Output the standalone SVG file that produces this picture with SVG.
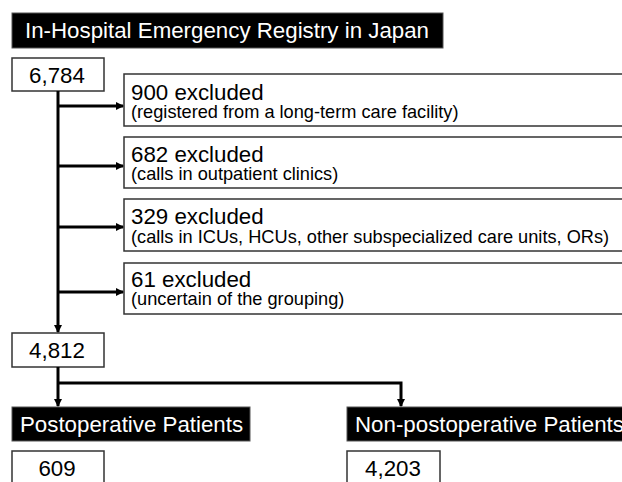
<svg xmlns="http://www.w3.org/2000/svg" width="622" height="482" viewBox="0 0 622 482">
<defs>
<marker id="ah" markerWidth="8" markerHeight="8" refX="7" refY="4" orient="auto" markerUnits="userSpaceOnUse">
<path d="M0,0 L8,4 L0,8 Z" fill="#000"/>
</marker>
<style>
.t{font-family:"Liberation Sans",Arial,sans-serif;fill:#000}
.w{font-family:"Liberation Sans",Arial,sans-serif;fill:#fff;font-size:22.3px}
.box{fill:#fff;stroke:#333;stroke-width:1.5}
.hdr{fill:#000;stroke:#555;stroke-width:1}
.big{font-size:22.3px}
.sm{font-size:18.2px}
.ln{fill:none;stroke:#000;stroke-width:3}
</style>
</defs>
<rect width="622" height="482" fill="#fff"/>
<g id="title">
<rect class="hdr" x="12" y="13" width="431" height="35"/>
<text class="w" x="25" y="38">In-Hospital Emergency Registry in Japan</text>
</g>
<g id="n6784">
<rect class="box" x="12" y="58" width="92" height="33"/>
<text class="t big" x="57" y="83" text-anchor="middle">6,784</text>
</g>
<g id="ex900">
<rect class="box" x="124" y="74" width="510" height="52"/>
<text class="t big" x="131" y="100">900 excluded</text>
<text class="t sm" x="131" y="118">(registered from a long-term care facility)</text>
</g>
<g id="ex682">
<rect class="box" x="124" y="137" width="510" height="51"/>
<text class="t big" x="131" y="162">682 excluded</text>
<text class="t sm" x="131" y="180">(calls in outpatient clinics)</text>
</g>
<g id="ex329">
<rect class="box" x="124" y="199" width="510" height="52"/>
<text class="t big" x="131" y="224">329 excluded</text>
<text class="t sm" x="131" y="243">(calls in ICUs, HCUs, other subspecialized care units, ORs)</text>
</g>
<g id="ex61">
<rect class="box" x="124" y="263" width="510" height="51"/>
<text class="t big" x="131" y="287">61 excluded</text>
<text class="t sm" x="131" y="305">(uncertain of the grouping)</text>
</g>
<g id="n4812">
<rect class="box" x="12" y="333" width="92" height="34"/>
<text class="t big" x="57" y="358" text-anchor="middle">4,812</text>
</g>
<g id="postop">
<rect class="hdr" x="12" y="407" width="238" height="34"/>
<text class="w" x="20" y="432">Postoperative Patients</text>
</g>
<g id="nonpostop">
<rect class="hdr" x="347" y="407" width="290" height="34"/>
<text class="w" x="355" y="432">Non-postoperative Patients</text>
</g>
<g id="n609">
<rect class="box" x="12" y="451" width="92" height="40"/>
<text class="t big" x="57" y="476" text-anchor="middle">609</text>
</g>
<g id="n4203">
<rect class="box" x="347" y="451" width="93" height="40"/>
<text class="t big" x="393" y="476" text-anchor="middle">4,203</text>
</g>
<g id="connectors">
<line class="ln" x1="58" y1="91" x2="58" y2="332" marker-end="url(#ah)"/>
<line class="ln" x1="58" y1="106" x2="123" y2="106" marker-end="url(#ah)"/>
<line class="ln" x1="58" y1="166" x2="123" y2="166" marker-end="url(#ah)"/>
<line class="ln" x1="58" y1="227" x2="123" y2="227" marker-end="url(#ah)"/>
<line class="ln" x1="58" y1="292" x2="123" y2="292" marker-end="url(#ah)"/>
<line class="ln" x1="58" y1="367" x2="58" y2="406" marker-end="url(#ah)"/>
<polyline class="ln" points="58,383 401,383 401,406" marker-end="url(#ah)"/>
</g>
</svg>
